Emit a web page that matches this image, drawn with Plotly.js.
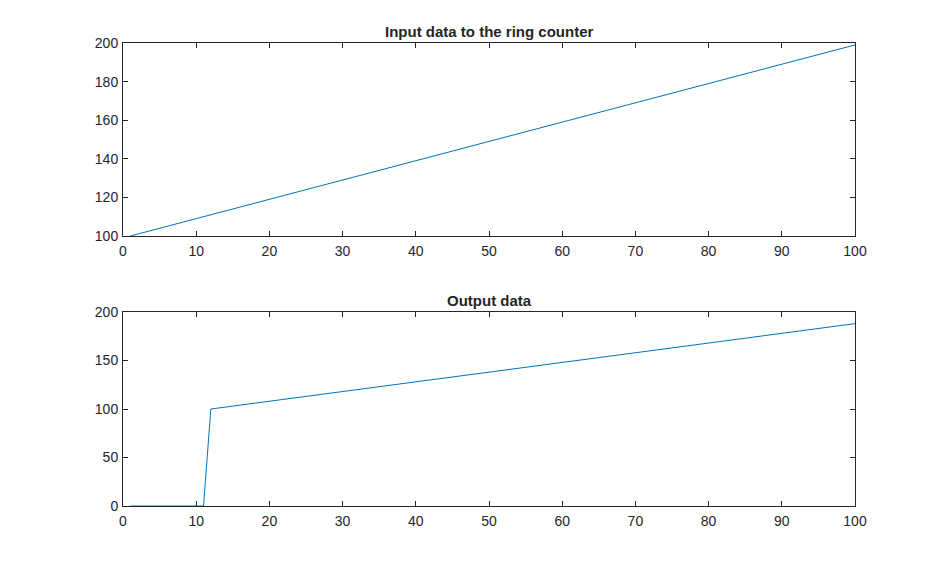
<!DOCTYPE html>
<html>
<head>
<meta charset="utf-8">
<script src="https://cdn.plot.ly/plotly-3.0.1.min.js"></script>
<style>html,body{margin:0;padding:0;background:#fff;}#chart{width:946px;height:569px;}</style>
</head>
<body>
<div id="chart"></div>
<script>
const sampleIndex = [1,2,3,4,5,6,7,8,9,10,11,12,13,14,15,16,17,18,19,20,21,22,23,24,25,26,27,28,29,30,31,32,33,34,35,36,37,38,39,40,41,42,43,44,45,46,47,48,49,50,51,52,53,54,55,56,57,58,59,60,61,62,63,64,65,66,67,68,69,70,71,72,73,74,75,76,77,78,79,80,81,82,83,84,85,86,87,88,89,90,91,92,93,94,95,96,97,98,99,100];
const inputData = [100,101,102,103,104,105,106,107,108,109,110,111,112,113,114,115,116,117,118,119,120,121,122,123,124,125,126,127,128,129,130,131,132,133,134,135,136,137,138,139,140,141,142,143,144,145,146,147,148,149,150,151,152,153,154,155,156,157,158,159,160,161,162,163,164,165,166,167,168,169,170,171,172,173,174,175,176,177,178,179,180,181,182,183,184,185,186,187,188,189,190,191,192,193,194,195,196,197,198,199];
const outputData = [0,0,0,0,0,0,0,0,0,0,0,100,101,102,103,104,105,106,107,108,109,110,111,112,113,114,115,116,117,118,119,120,121,122,123,124,125,126,127,128,129,130,131,132,133,134,135,136,137,138,139,140,141,142,143,144,145,146,147,148,149,150,151,152,153,154,155,156,157,158,159,160,161,162,163,164,165,166,167,168,169,170,171,172,173,174,175,176,177,178,179,180,181,182,183,184,185,186,187,188];
const xTicks = [0,10,20,30,40,50,60,70,80,90,100];
const inputTicks = [100,120,140,160,180,200];
const outputTicks = [0,50,100,150,200];
const titles = ["Input data to the ring counter", "Output data"];

const lineColor = '#0072BD';
const axisColor = '#262626';
const font = {family: 'Liberation Sans, Arial, sans-serif', size: 14, color: axisColor};

function axisBase(standoff) {
  return {
    showgrid: false, zeroline: false, showline: true, mirror: 'ticks',
    linecolor: axisColor, linewidth: 1,
    ticks: 'inside', ticklen: 5, tickwidth: 1, tickcolor: axisColor,
    tickfont: font, ticklabelstandoff: standoff
  };
}

const traces = [
  {x: sampleIndex, y: inputData, type: 'scatter', mode: 'lines', line: {color: lineColor, width: 1}, xaxis: 'x', yaxis: 'y', hoverinfo: 'skip'},
  {x: sampleIndex, y: outputData, type: 'scatter', mode: 'lines', line: {color: lineColor, width: 1}, xaxis: 'x2', yaxis: 'y2', hoverinfo: 'skip'}
];

const topDomain = [270/463, 1];
const botDomain = [0, 194/463];

const layout = {
  width: 946, height: 569,
  margin: {l: 123, r: 91, t: 43, b: 63},
  paper_bgcolor: '#fff', plot_bgcolor: '#fff',
  showlegend: false,
  font: font,
  xaxis: Object.assign(axisBase(2), {domain: [0,1], range: [0,100], tickvals: xTicks, anchor: 'y'}),
  yaxis: Object.assign(axisBase(1), {domain: topDomain, range: [100,200], tickvals: inputTicks, anchor: 'x'}),
  xaxis2: Object.assign(axisBase(2), {domain: [0,1], range: [0,100], tickvals: xTicks, anchor: 'y2'}),
  yaxis2: Object.assign(axisBase(1), {domain: botDomain, range: [0,200], tickvals: outputTicks, anchor: 'x2'}),
  annotations: [
    {text: '<b>' + titles[0] + '</b>', xref: 'paper', yref: 'paper', x: 0.5, y: topDomain[1], xanchor: 'center', yanchor: 'bottom', yshift: 1, showarrow: false, font: {family: font.family, size: 15, color: axisColor}},
    {text: '<b>' + titles[1] + '</b>', xref: 'paper', yref: 'paper', x: 0.5, y: botDomain[1], xanchor: 'center', yanchor: 'bottom', yshift: 1, showarrow: false, font: {family: font.family, size: 15, color: axisColor}}
  ]
};

Plotly.newPlot('chart', traces, layout, {staticPlot: true, displayModeBar: false});
</script>
</body>
</html>
